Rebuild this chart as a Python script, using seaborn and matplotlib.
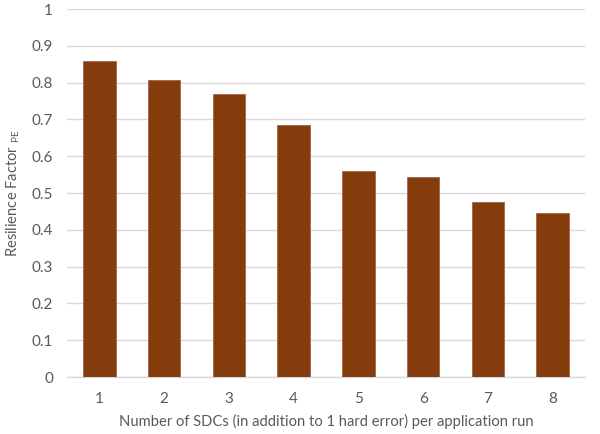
import matplotlib
matplotlib.use("Agg")
import matplotlib.pyplot as plt
import seaborn as sns
import pandas as pd

# Resilience factor per number of SDCs injected alongside one hard error
sdc_counts = ["1", "2", "3", "4", "5", "6", "7", "8"]
resilience = [0.860, 0.806, 0.770, 0.684, 0.560, 0.544, 0.477, 0.447]
y_ticks = [0, 0.1, 0.2, 0.3, 0.4, 0.5, 0.6, 0.7, 0.8, 0.9, 1]
y_tick_labels = ["0", "0.1", "0.2", "0.3", "0.4", "0.5", "0.6", "0.7", "0.8", "0.9", "1"]

sns.set_style("white")
plt.rcParams["font.family"] = ["Lato", "DejaVu Sans"]
plt.rcParams["mathtext.fontset"] = "custom"
plt.rcParams["mathtext.rm"] = "Lato"

text_color = "#595959"
grid_color = "#D9D9D9"
bar_color = "#843C0C"

df = pd.DataFrame({"sdc": sdc_counts, "rf": resilience})

fig = plt.figure(figsize=(6.0, 4.34), dpi=100)
ax = fig.add_axes([0.1117, 0.1313, 0.8633, 0.8477])

sns.barplot(data=df, x="sdc", y="rf", color=bar_color, saturation=1,
            width=0.5, edgecolor="#A0664A", linewidth=0.6, ax=ax, zorder=3)

ax.set_ylim(0, 1)
ax.set_yticks(y_ticks)
ax.set_yticklabels(y_tick_labels)
ax.yaxis.grid(True, color=grid_color, linewidth=1.0, zorder=0)
ax.set_axisbelow(True)

for side in ["left", "right", "top"]:
    ax.spines[side].set_visible(False)
ax.spines["bottom"].set_color(grid_color)
ax.spines["bottom"].set_linewidth(1.0)

ax.tick_params(axis="both", length=0, colors=text_color, labelsize=11)
ax.tick_params(axis="x", pad=11)
ax.tick_params(axis="y", pad=10)

ax.set_xlabel("Number of SDCs (in addition to 1 hard error) per application run",
              color=text_color, fontsize=10.6, va="center")
ax.xaxis.set_label_coords(0.5, -0.12)
ax.set_ylabel(r"Resilience Factor $_{\mathrm{PE}}$", color=text_color,
              fontsize=10.6, va="center")
ax.yaxis.set_label_coords(-0.104, 0.5)

fig.savefig("out.png", dpi=100)
